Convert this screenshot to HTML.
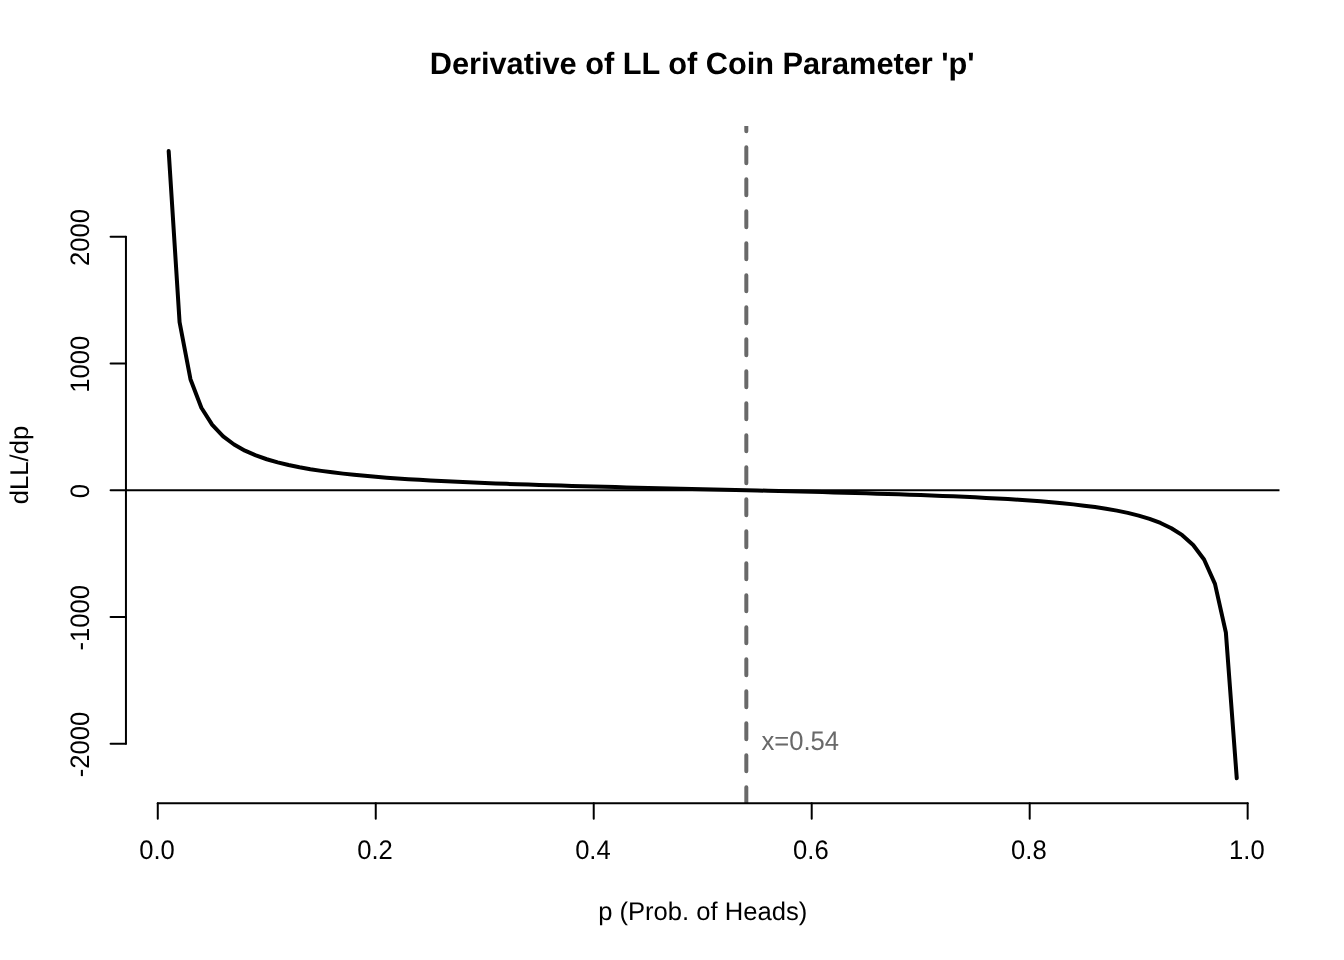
<!DOCTYPE html>
<html><head><meta charset="utf-8"><title>Derivative of LL of Coin Parameter 'p'</title>
<style>
html,body{margin:0;padding:0;background:#fff;}
svg{display:block;will-change:transform;}
text{text-rendering:geometricPrecision;font-family:"Liberation Sans",Arial,Helvetica,sans-serif;fill:#000;}
</style></head><body>
<svg width="1344" height="960" viewBox="0 0 1344 960">
<rect width="1344" height="960" fill="#fff"/>
<defs><clipPath id="plotclip"><rect x="125.95" y="125.95" width="1153.54" height="677.38"/></clipPath></defs>
<path d="M125.95,490.24 H1279.49" stroke="#000" stroke-width="2.0" fill="none"/>
<path d="M168.68,151.04 L179.57,322.14 L190.47,379.20 L201.37,407.74 L212.27,424.88 L223.17,436.32 L234.07,444.50 L244.97,450.64 L255.87,455.43 L266.77,459.26 L277.66,462.41 L288.56,465.04 L299.46,467.27 L310.36,469.19 L321.26,470.86 L332.16,472.33 L343.06,473.63 L353.96,474.79 L364.86,475.83 L375.75,476.78 L386.65,477.64 L397.55,478.42 L408.45,479.15 L419.35,479.82 L430.25,480.44 L441.15,481.02 L452.05,481.56 L462.94,482.07 L473.84,482.55 L484.74,483.00 L495.64,483.43 L506.54,483.83 L517.44,484.22 L528.34,484.59 L539.24,484.95 L550.14,485.29 L561.03,485.62 L571.93,485.94 L582.83,486.25 L593.73,486.54 L604.63,486.83 L615.53,487.12 L626.43,487.40 L637.33,487.67 L648.23,487.94 L659.12,488.20 L670.02,488.46 L680.92,488.72 L691.82,488.97 L702.72,489.23 L713.62,489.48 L724.52,489.73 L735.42,489.99 L746.32,490.24 L757.21,490.50 L768.11,490.75 L779.01,491.02 L789.91,491.28 L800.81,491.55 L811.71,491.82 L822.61,492.10 L833.51,492.39 L844.41,492.69 L855.30,492.99 L866.20,493.30 L877.10,493.63 L888.00,493.97 L898.90,494.32 L909.80,494.68 L920.70,495.07 L931.60,495.47 L942.50,495.90 L953.39,496.35 L964.29,496.83 L975.19,497.34 L986.09,497.88 L996.99,498.47 L1007.89,499.10 L1018.79,499.79 L1029.69,500.54 L1040.58,501.36 L1051.48,502.26 L1062.38,503.26 L1073.28,504.38 L1084.18,505.65 L1095.08,507.08 L1105.98,508.73 L1116.88,510.64 L1127.78,512.89 L1138.67,515.58 L1149.57,518.86 L1160.47,522.95 L1171.37,528.20 L1182.27,535.18 L1193.17,544.93 L1204.07,559.54 L1214.97,583.86 L1225.87,632.48 L1236.76,778.24" fill="none" stroke="#000" stroke-width="4.0" stroke-linecap="round" stroke-linejoin="round"/>
<path clip-path="url(#plotclip)" d="M746.32,803.33 V125.95" stroke="#696969" stroke-width="4.0" stroke-dasharray="16,16" fill="none" stroke-linecap="round"/>
<g stroke="#000" stroke-width="2.0" fill="none" stroke-linecap="round" stroke-linejoin="round">
<path d="M157.78,803.33 H1247.66"/>
<path d="M157.78,803.33 v15.36"/>
<path d="M375.75,803.33 v15.36"/>
<path d="M593.73,803.33 v15.36"/>
<path d="M811.71,803.33 v15.36"/>
<path d="M1029.69,803.33 v15.36"/>
<path d="M1247.66,803.33 v15.36"/>
<path d="M125.95,743.68 V236.80"/>
<path d="M125.95,743.68 h-15.36"/>
<path d="M125.95,616.96 h-15.36"/>
<path d="M125.95,490.24 h-15.36"/>
<path d="M125.95,363.52 h-15.36"/>
<path d="M125.95,236.80 h-15.36"/>
</g>
<text transform="translate(156.98,858.62) scale(1,1.045)" font-size="25.6" text-anchor="middle">0.0</text>
<text transform="translate(374.95,858.62) scale(1,1.045)" font-size="25.6" text-anchor="middle">0.2</text>
<text transform="translate(592.93,858.62) scale(1,1.045)" font-size="25.6" text-anchor="middle">0.4</text>
<text transform="translate(810.91,858.62) scale(1,1.045)" font-size="25.6" text-anchor="middle">0.6</text>
<text transform="translate(1028.89,858.62) scale(1,1.045)" font-size="25.6" text-anchor="middle">0.8</text>
<text transform="translate(1246.86,858.62) scale(1,1.045)" font-size="25.6" text-anchor="middle">1.0</text>
<text transform="translate(89.09,744.48) rotate(-90) scale(1,1.045)" font-size="25.6" text-anchor="middle">-2000</text>
<text transform="translate(89.09,617.76) rotate(-90) scale(1,1.045)" font-size="25.6" text-anchor="middle">-1000</text>
<text transform="translate(89.09,491.04) rotate(-90) scale(1,1.045)" font-size="25.6" text-anchor="middle">0</text>
<text transform="translate(89.09,364.32) rotate(-90) scale(1,1.045)" font-size="25.6" text-anchor="middle">1000</text>
<text transform="translate(89.09,237.60) rotate(-90) scale(1,1.045)" font-size="25.6" text-anchor="middle">2000</text>
<text x="702.72" y="920.06" font-size="25.6" text-anchor="middle">p (Prob. of Heads)</text>
<text transform="translate(27.65,465.00) rotate(-90)" font-size="25.6" text-anchor="middle">dLL/dp</text>
<text x="702.22" y="73.5" font-size="30.72" font-weight="bold" text-anchor="middle">Derivative of LL of Coin Parameter 'p'</text>
<text transform="translate(761.5,749.8) scale(1.0,1.045)" font-size="25.6" style="fill:#696969">x=0.54</text>
</svg>
</body></html>
